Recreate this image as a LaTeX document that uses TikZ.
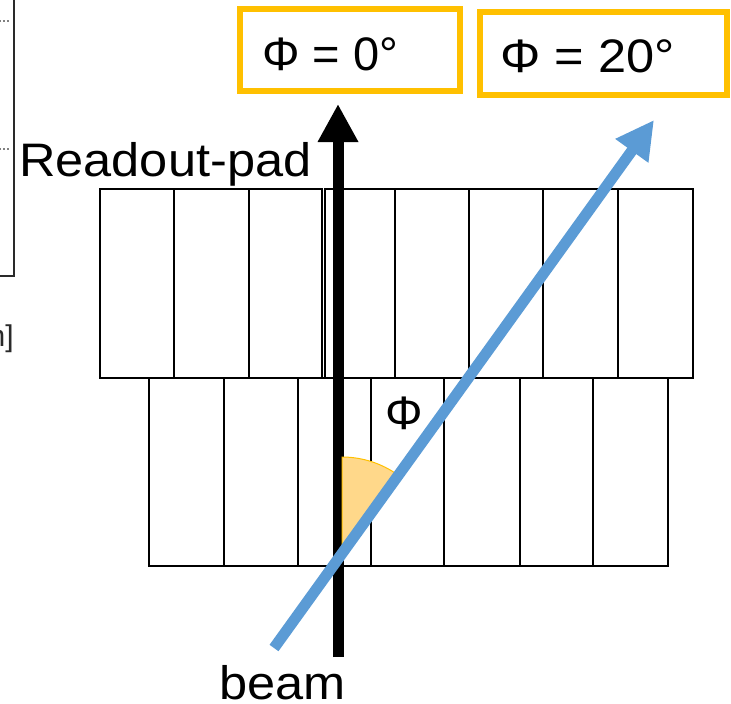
\documentclass[tikz,border=0pt]{standalone}
\usepackage{fontspec}
\setmainfont{Liberation Sans}
\newfontfamily\widefont{Liberation Sans}[FakeStretch=1.075]
\usetikzlibrary{arrows.meta}
\definecolor{boxorange}{HTML}{FFC000}
\definecolor{beamblue}{HTML}{5B9BD5}
\definecolor{wedgefill}{HTML}{FFD88A}
\definecolor{axisgray}{HTML}{2A2A2A}
\begin{document}
\begin{tikzpicture}[x=1pt,y=-1pt,
  pad/.style={draw=black, line width=2.4pt},
  labelbox/.style={draw=boxorange, line width=6pt, inner sep=0pt},
  bigtext/.style={font=\fontsize{47}{56}\selectfont, inner sep=0pt},
  widetext/.style={font=\fontsize{47}{56}\widefont, inner sep=0pt},
  smalltext/.style={font=\fontsize{30}{36}\selectfont, inner sep=0pt, text=axisgray},
  thickarrow/.style={line width=11pt, -{Triangle[length=38pt,width=38pt]}},
]
\useasboundingbox (0,0) rectangle (731,704);
% partial plot at the left edge
\draw[axisgray, line width=1.6pt] (14,-3) -- (14,276) -- (-3,276);
\draw[gray, line width=1.2pt, dash pattern=on 1.5pt off 2.5pt] (-1,21) -- (9,21);
\draw[gray, line width=1.2pt, dash pattern=on 1.5pt off 2.5pt] (-1,149) -- (9,149);
\node[smalltext, anchor=base east] (unit) at (14,346) {[mm]};
% readout pads
\foreach \a/\b in {100/174,174/249,249/322,325/395,395/469,469/543,543/618,618/693}
  \draw[pad] (\a,189) rectangle (\b,378);
\foreach \a/\b in {149/224,224/298,298/371,371/444,444/520,520/593,593/668}
  \draw[pad] (\a,378) rectangle (\b,566);
% black arrow (Phi = 0)
\coordinate (kstart) at (338,657);
\coordinate (ktip) at (338,104);
\draw[thickarrow, black] (kstart) -- (ktip);
% angle wedge
\coordinate (apex) at (342,553);
\filldraw[fill=wedgefill, draw=boxorange, line width=1pt]
  (apex) -- ++(-90:96) arc[start angle=-90, end angle=-54.3, radius=96] -- cycle;
% blue beam arrow
\coordinate (bstart) at (274,648);
\coordinate (btip) at (654,120);
\draw[thickarrow, beamblue] (bstart) -- (btip);
% labels
\node[widetext, anchor=base west] (readout) at (19,176) {Readout-pad};
\node[widetext, anchor=base west] (beam) at (219,699) {beam};
\node[bigtext, anchor=center] (phi) at (404,413) {Φ};
% boxes
\node[labelbox, minimum width=220pt, minimum height=82pt] (box0) at (350,50) {};
\node[labelbox, minimum width=247pt, minimum height=83pt] (box20) at (603.5,53.5) {};
\node[bigtext, anchor=base west] (phi0) at (262,70) {Φ = 0°};
\node[widetext, anchor=base west] (phi20) at (500,72) {Φ = 20°};
\end{tikzpicture}
\end{document}
